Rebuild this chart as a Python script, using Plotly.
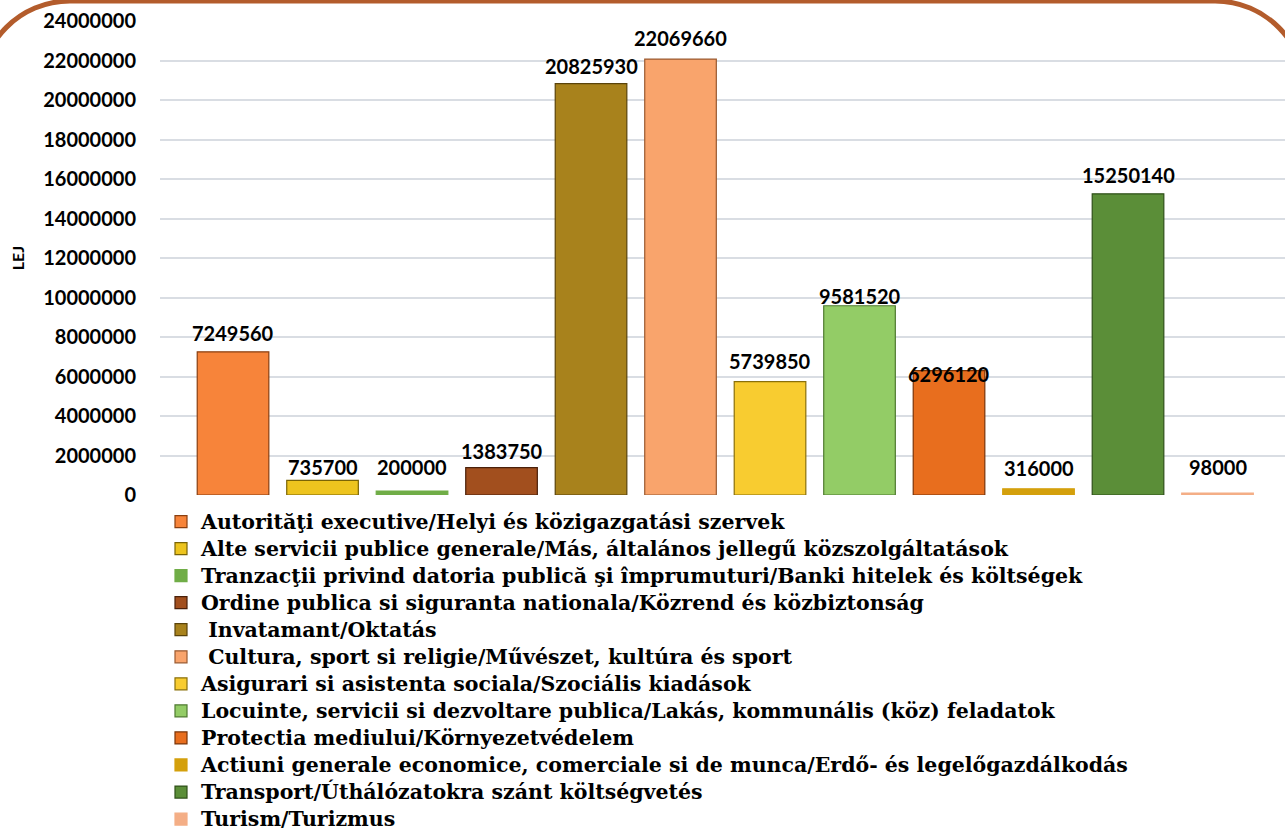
import plotly.graph_objects as go

categories = [
    "Autorităţi executive/Helyi és közigazgatási szervek",
    "Alte servicii publice generale/Más, általános jellegű közszolgáltatások",
    "Tranzacţii privind datoria publică şi împrumuturi/Banki hitelek és költségek",
    "Ordine publica si siguranta nationala/Közrend és közbiztonság",
    " Invatamant/Oktatás",
    " Cultura, sport si religie/Művészet, kultúra és sport",
    "Asigurari si asistenta sociala/Szociális kiadások",
    "Locuinte, servicii si dezvoltare publica/Lakás, kommunális (köz) feladatok",
    "Protectia mediului/Környezetvédelem",
    "Actiuni generale economice, comerciale si de munca/Erdő- és legelőgazdálkodás",
    "Transport/Úthálózatokra szánt költségvetés",
    "Turism/Turizmus",
]
values = [7249560, 735700, 200000, 1383750, 20825930, 22069660,
          5739850, 9581520, 6296120, 316000, 15250140, 98000]
y_ticks = list(range(0, 24000001, 2000000))

# styles
colors = ["#F7843A", "#EDC41E", "#70AD47", "#A24F1E", "#A8821C", "#F9A46C",
          "#F8CC30", "#93CC66", "#E86E1E", "#D4A00C", "#5B8E38", "#F4AE86"]
edge = ["#8A3F10", "#7A6405", "#70AD47", "#4A200A", "#5A430A", "#9A5A30",
        "#8A700A", "#4F7A30", "#7A3408", "#D4A00C", "#2F5019", "#F4AE86"]
label_gap = [9, 3, 14, 7, 8, 11, 11, 0, -13, 11, 9, 16]

W, H = 1285, 835
L, R, T, B = 160, 0, 21, 340
PW, PH = W - L - R, H - T - B


def px(x):
    return (x - L) / PW


def py(y):
    return (H - B - y) / PH


fig = go.Figure()
for i, (c, v) in enumerate(zip(categories, values)):
    fig.add_trace(go.Bar(
        x=[c], y=[v], width=0.8,
        name=f"<span style='font-size:20.5px'>{c}</span>",
        marker=dict(color=colors[i], line=dict(color=edge[i], width=1.2)),
        showlegend=True,
    ))

for i, (c, v) in enumerate(zip(categories, values)):
    fig.add_annotation(
        x=c, y=v, text=str(v), showarrow=False, yanchor="bottom",
        yshift=label_gap[i] - 4,
        font=dict(family="Lato", size=20, color="black", weight="bold"),
    )

# decorative rounded frame
k = 0.5523
Rr = 90
xl, xr, yt = -20, 1305, 1
path = (
    f"M {px(xl)},{py(300)} L {px(xl)},{py(yt + Rr)} "
    f"C {px(xl)},{py(yt + Rr - k * Rr)} {px(xl + Rr - k * Rr)},{py(yt)} {px(xl + Rr)},{py(yt)} "
    f"L {px(xr - Rr)},{py(yt)} "
    f"C {px(xr - Rr + k * Rr)},{py(yt)} {px(xr)},{py(yt + Rr - k * Rr)} {px(xr)},{py(yt + Rr)} "
    f"L {px(xr)},{py(300)}"
)
fig.add_shape(type="path", xref="paper", yref="paper", path=path,
              line=dict(color="#B35C2C", width=5), layer="above")

fig.update_layout(
    width=W, height=H,
    margin=dict(l=L, r=R, t=T, b=B, autoexpand=False),
    paper_bgcolor="white", plot_bgcolor="white",
    barmode="overlay",
    showlegend=True,
    legend=dict(
        orientation="v", x=px(161), xanchor="left", y=py(503), yanchor="top",
        traceorder="normal", bgcolor="rgba(0,0,0,0)",
        font=dict(family="DejaVu Serif", size=18.5, color="black", weight="bold"),
        itemclick=False, itemdoubleclick=False,
    ),
    xaxis=dict(
        type="category", range=[-0.816, 11.754], showticklabels=False,
        showgrid=False, zeroline=False, showline=False, ticks="",
    ),
    yaxis=dict(
        range=[0, 24000000], tickvals=y_ticks, tickformat="d",
        showgrid=True, gridcolor="#D9DDE3", gridwidth=1.5,
        zeroline=False, showline=False, ticks="",
        ticklabelstandoff=23,
        tickfont=dict(family="Lato", size=20, color="black", weight="bold"),
        title=dict(text="LEJ", standoff=14,
                   font=dict(family="Lato", size=16, color="black", weight="bold")),
    ),
)

fig.write_html("out.html", post_script="document.body.style.margin='0';",
               config={"displayModeBar": False})
